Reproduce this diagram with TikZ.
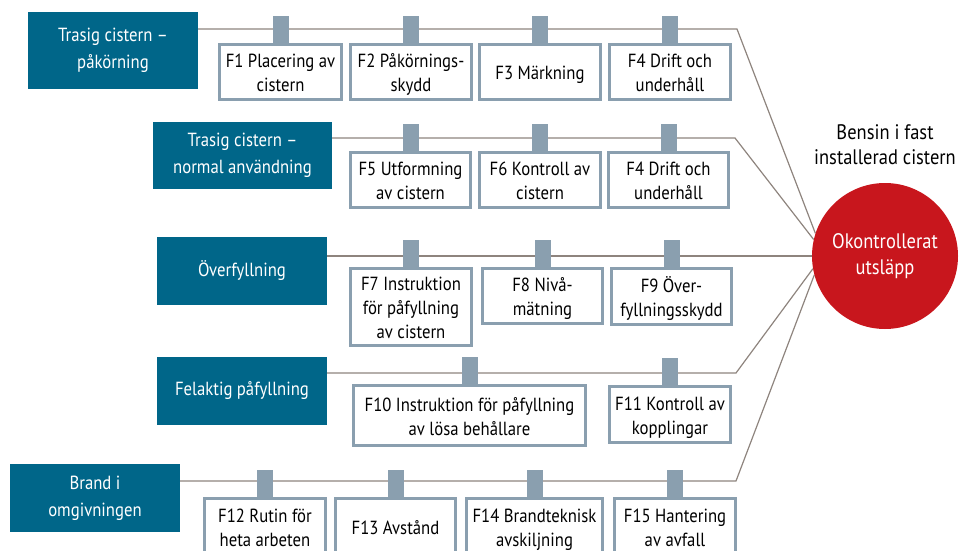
\documentclass[tikz,border=0pt]{standalone}
\usepackage{fontspec}
\setmainfont{PT Sans}[FakeStretch=0.88]
\usetikzlibrary{backgrounds}

\definecolor{causeteal}{HTML}{006689}
\definecolor{tabblue}{HTML}{8A9FAF}
\definecolor{linkgrey}{HTML}{8E847E}
\definecolor{eventred}{HTML}{C8161D}

\tikzset{
  cause/.style={fill=causeteal, text=white, inner sep=0pt, align=center,
    font=\fontsize{19}{27}\selectfont},
  barrier/.style={draw=tabblue, line width=2.6pt, fill=white, inner sep=0pt,
    align=center, font=\fontsize{19}{24}\selectfont},
  tab/.style={draw=tabblue, line width=16pt},
  link/.style={draw=linkgrey, line width=1.2pt, line join=miter},
  event/.style={circle, fill=eventred, text=white, inner sep=0pt,
    minimum size=146pt, align=center, font=\fontsize{21}{26}\selectfont},
  caption/.style={align=center, font=\fontsize{21}{25}\selectfont}
}

% rectangle node given by its outer corners (x1,y1) and (x2,y2)
\newcommand{\causenode}[6]{%
  \node[cause, minimum width={(#4-#2)*1pt}, minimum height={(#5-#3)*1pt}]
    (#1) at ({(#2+#4)/2},{(#3+#5)/2}) {#6};}
% barrier box; its text sits a little below the middle
\newcommand{\barriernode}[6]{%
  \node[barrier, minimum width={(#4-#2-2.6)*1pt}, minimum height={(#5-#3-2.6)*1pt}]
    (#1) at ({(#2+#4)/2},{(#3+#5)/2})
    {\raisebox{-3pt}[\height][\depth]{\begin{tabular}{@{}c@{}}#6\end{tabular}}};}

\begin{document}
\begin{tikzpicture}[x=1pt, y=-1pt]
\useasboundingbox (0,0) rectangle (959,551);

% caption above the top event
\node[caption] (title) at (885,145) {Bensin i fast\\installerad cistern};

% top event
\node[event] (out) at (885,256) {Okontrollerat\\utsläpp};

% causes
\causenode{c1}{28}{12}{198}{89}{Trasig cistern –\\påkörning}
\causenode{c2}{153}{122}{332}{189}{Trasig cistern –\\normal användning}
\causenode{c3}{157}{237}{327}{305}{Överfyllning}
\causenode{c4}{157}{357}{327}{425}{Felaktig påfyllning}
\causenode{c5}{10}{464}{180}{532}{Brand i\\omgivningen}

% bend points of the cause lines
\coordinate (k1) at (737,29);
\coordinate (k2) at (735,138);
\coordinate (k4) at (736,373);
\coordinate (k5) at (736,481);

% cause lines towards the top event, kept behind the disc and tabs
\begin{scope}[on background layer]
\draw[link] (c1.east |- k1) -- (k1) -- (out.162);
\draw[link] (c2.east |- k2) -- (k2) -- (out.167);
\draw[link] (c3.east |- out.west) -- (out.west);
\draw[link] (c4.east |- k4) -- (k4) -- (out.190);
\draw[link] (c5.east |- k5) -- (k5) -- (out.195);
\end{scope}

% barriers
\barriernode{f1}{218}{43}{343}{101}{F1 Placering av\\cistern}
\barriernode{f2}{349}{43}{473}{101}{F2 Påkörnings-\\skydd}
\barriernode{f3}{478}{43}{602}{101}{F3 Märkning}
\barriernode{f4}{608}{43}{732}{101}{F4 Drift och\\underhåll}

\barriernode{f5}{349}{151}{472}{209}{F5 Utformning\\av cistern}
\barriernode{f6}{478}{151}{602}{209}{F6 Kontroll av\\cistern}
\barriernode{f4b}{607}{151}{730}{209}{F4 Drift och\\underhåll}

\barriernode{f7}{349}{267}{473}{347}{F7 Instruktion\\för påfyllning\\av cistern}
\barriernode{f8}{481}{267}{604}{325}{F8 Nivå-\\mätning}
\barriernode{f9}{610}{267}{733}{326}{F9 Över-\\fyllningsskydd}

\barriernode{f10}{352}{384}{587}{447}{F10 Instruktion för påfyllning\\av lösa behållare}
\barriernode{f11}{608}{385}{732}{444}{F11 Kontroll av\\kopplingar}

\barriernode{f12}{203}{497}{327}{557}{F12 Rutin för\\heta arbeten}
\barriernode{f13}{334}{497}{457}{557}{F13 Avstånd}
\barriernode{f14}{465}{497}{604}{557}{F14 Brandteknisk\\avskiljning}
\barriernode{f15}{613}{497}{737}{557}{F15 Hantering\\av avfall}

% tabs hanging the barriers on the lines
\foreach \b in {f1,f2,f3,f4,f5,f6,f4b,f7,f8,f9,f10,f11,f12,f13,f14,f15}
  \draw[tab] ([yshift=-1.3pt]\b.north) -- ++(0,-28);

\end{tikzpicture}
\end{document}
